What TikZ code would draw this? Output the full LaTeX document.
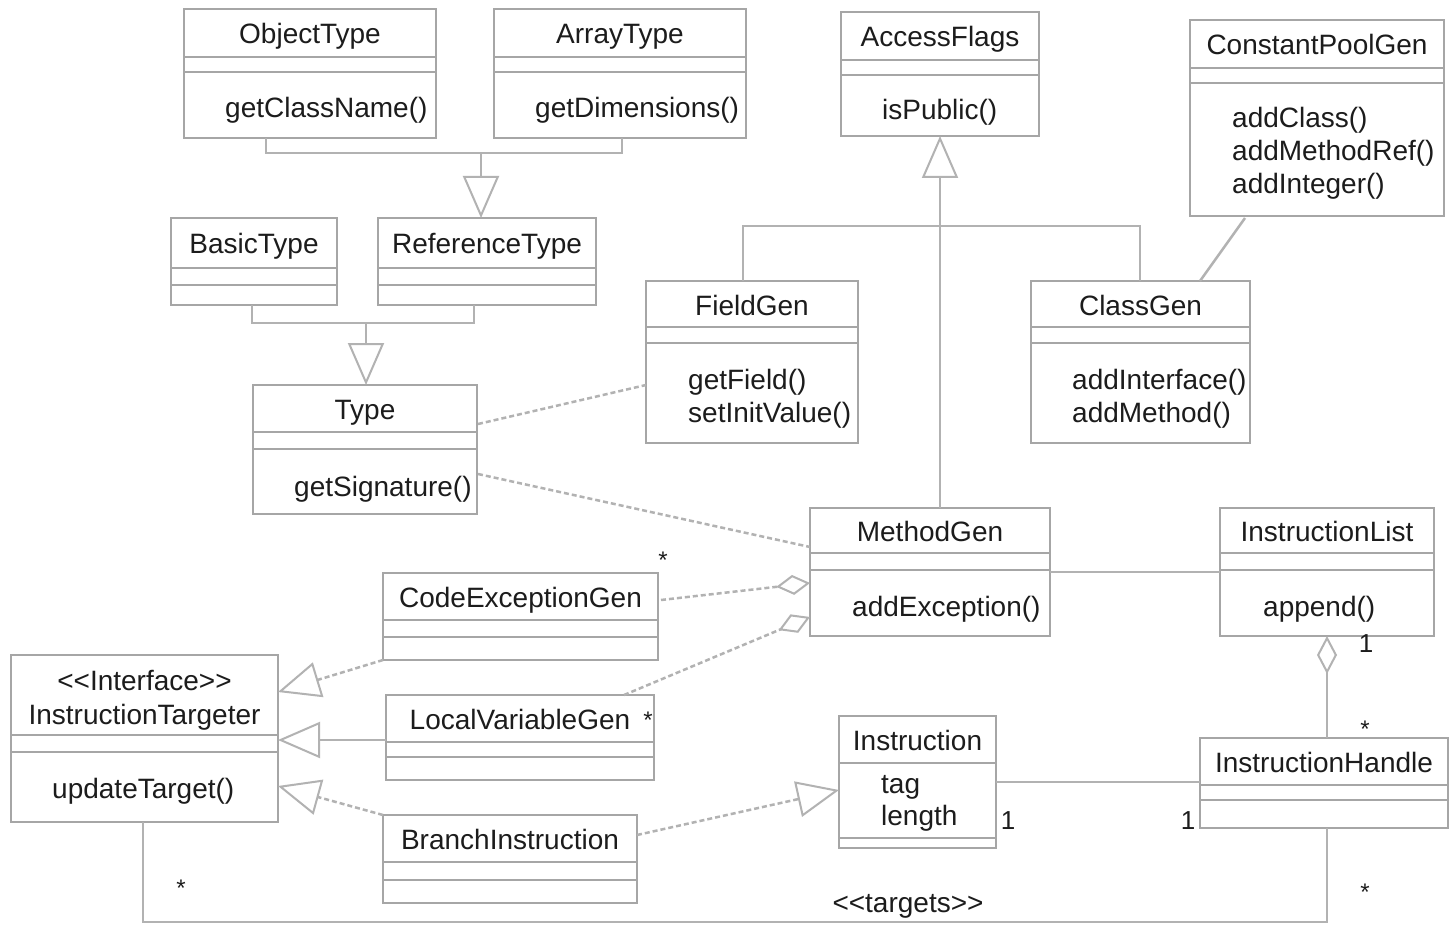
\documentclass[tikz,border=0pt]{standalone}
\usepackage{fontspec}
\setmainfont{Liberation Sans}
\usetikzlibrary{arrows.meta,calc}
\definecolor{linegray}{HTML}{B2B2B2}
\definecolor{boxgray}{HTML}{A6A6A6}
\definecolor{ink}{HTML}{1C1C1C}
\tikzset{
  classbox/.style={draw=boxgray, line width=2pt, fill=white, inner sep=0pt, outer sep=0pt},
  compline/.style={draw=boxgray, line width=2pt},
  conn/.style={draw=linegray, line width=2.5pt},
  dashconn/.style={conn, dash pattern=on 5pt off 3pt},
  gen/.style={-{Triangle[open,length=42pt,width=36pt,line width=2pt]}},
  agg/.style={-{Diamond[open,length=34pt,width=20pt,line width=2pt]}},
  ctitle/.style={anchor=base, inner sep=0pt, text=ink, font=\fontsize{28}{33}\selectfont},
  meth/.style={anchor=base west, inner sep=0pt, text=ink, font=\fontsize{28}{33}\selectfont},
  star/.style={anchor=base, inner sep=0pt, text=ink, font=\fontsize{24}{28}\selectfont},
  one/.style={anchor=base, inner sep=0pt, text=ink, font=\fontsize{26}{30}\selectfont},
}
% name, x1, y1, x2, y2, line1, line2, title
\newcommand{\umlclass}[8]{%
  \node[classbox, minimum width={(#4)-(#2)}, minimum height={(#5)-(#3)}] (#1) at ({((#2)+(#4))/2},{((#3)+(#5))/2}) {};
  \draw[compline] (#2,#6) -- (#4,#6) (#2,#7) -- (#4,#7);
  \node[ctitle] (#1t) at ({((#2)+(#4))/2},{((#3)+(#6))/2+11}) {#8};
}
\begin{document}
\begin{tikzpicture}[x=1pt,y=-1pt]
\useasboundingbox (0,0) rectangle (1450,925);
\fill[white] (0,0) rectangle (1450,925);

% classes
\umlclass{OT}{184}{9}{436}{138}{57}{72}{ObjectType}
\node[meth] (OTm1) at (225,118) {getClassName()};
\umlclass{AT}{494}{9}{746}{138}{57}{72}{ArrayType}
\node[meth] (ATm1) at (535,118) {getDimensions()};
\umlclass{AF}{841}{12}{1039}{136}{60}{75}{AccessFlags}
\node[meth] (AFm1) at (882,120) {isPublic()};
\umlclass{CPG}{1190}{20}{1444}{216}{68}{83}{ConstantPoolGen}
\node[meth] (CPGm1) at (1232,128) {addClass()};
\node[meth] (CPGm2) at (1232,161) {addMethodRef()};
\node[meth] (CPGm3) at (1232,194) {addInteger()};
\umlclass{BT}{171}{218}{337}{305}{268}{285}{BasicType}
\umlclass{RT}{378}{218}{596}{305}{268}{285}{ReferenceType}
\umlclass{FG}{646}{281}{858}{443}{327}{343}{FieldGen}
\node[meth] (FGm1) at (688,389) {getField()};
\node[meth] (FGm2) at (688,422) {setInitValue()};
\umlclass{CG}{1031}{281}{1250}{443}{327}{343}{ClassGen}
\node[meth] (CGm1) at (1072,389) {addInterface()};
\node[meth] (CGm2) at (1072,422) {addMethod()};
\umlclass{TY}{253}{385}{477}{514}{432}{449}{Type}
\node[meth] (TYm1) at (294,496) {getSignature()};
\umlclass{MG}{810}{508}{1050}{636}{553}{570}{MethodGen}
\node[meth] (MGm1) at (852,616) {addException()};
\umlclass{IL}{1220}{508}{1434}{636}{553}{570}{InstructionList}
\node[meth] (ILm1) at (1263,616) {append()};
\umlclass{CEG}{383}{573}{658}{660}{620}{637}{CodeExceptionGen}
\umlclass{IT}{11}{655}{278}{822}{735}{752}{}
\node[ctitle] (ITs) at (144.5,690) {<\kern0pt<Interface>\kern0pt>};
\node[ctitle] (ITn) at (144.5,724) {InstructionTargeter};
\node[meth] (ITm1) at (52,798) {updateTarget()};
\umlclass{LVG}{386}{695}{654}{780}{742}{757}{LocalVariableGen}
\umlclass{BI}{383}{815}{637}{903}{862}{880}{BranchInstruction}
\umlclass{IN}{839}{716}{996}{848}{763}{838}{Instruction}
\node[meth] (INm1) at (881,793) {tag};
\node[meth] (INm2) at (881,825) {length};
\umlclass{IH}{1200}{738}{1448}{828}{785}{800}{InstructionHandle}

% generalizations to ReferenceType and Type
\coordinate (jA) at (481,153);
\draw[conn] ($(OT.south west)+(82,0)$) -- ++(0,15) -| ($(AT.south west)+(128,0)$);
\draw[conn,gen] (jA) -- ($(RT.north west)+(103,0)$);
\coordinate (jB) at (366,323);
\draw[conn] ($(BT.south west)+(81,0)$) -- ++(0,18) -| ($(RT.south west)+(96,0)$);
\draw[conn,gen] (jB) -- ($(TY.north west)+(113,0)$);

% AccessFlags hierarchy
\coordinate (jC) at (940,226);
\draw[conn,gen] (MG.north -| AF.south) -- (AF.south);
\draw[conn] ($(FG.north west)+(97,0)$) |- (jC) -| ($(CG.north west)+(109,0)$);
\draw[conn] ($(CPG.south west)+(55,2)$) -- ($(CG.north west)+(169,0)$);

% dependencies of Type
\draw[dashconn] ($(TY.north east)+(1,39)$) -- ($(FG.north west)+(0,104)$);
\draw[dashconn] ($(TY.north east)+(1,89)$) -- ($(MG.north west)+(0,39)$);

% MethodGen - InstructionList
\draw[conn] ($(MG.north east)+(0,64)$) -- ($(IL.north west)+(0,64)$);

% aggregations into MethodGen
\draw[dashconn,agg] ($(CEG.north east)+(3,27)$) -- ($(MG.north west)+(0,75)$);
\draw[dashconn,agg] ($(LVG.north west)+(238,0)$) -- ($(MG.north west)+(0,109)$);

% realizations of InstructionTargeter
\draw[dashconn,gen] (CEG.south west) -- ($(IT.north east)+(0,37)$);
\draw[conn,gen] ($(LVG.north west)+(0,45)$) -- ($(IT.north east)+(0,85)$);
\draw[dashconn,gen] (BI.north west) -- ($(IT.north east)+(0,131)$);

% BranchInstruction -> Instruction
\draw[dashconn,gen] ($(BI.north east)+(0,20)$) -- ($(IN.north west)+(0,74)$);

% Instruction - InstructionHandle
\draw[conn] ($(IN.north east)+(0,66)$) -- ($(IH.north west)+(0,44)$);

% InstructionList <>- InstructionHandle
\draw[conn,{Diamond[open,length=38pt,width=20pt,line width=2pt]}-] (IL.south) -- (IH.north -| IL.south);

% targets
\draw[conn] ($(IT.south west)+(132,0)$) -- ++(0,100) -| (IH.south -| IL.south);

% multiplicities and labels
\node[star] (s1) at (663,568) {*};
\node[star] (s2) at (648,728) {*};
\node[star] (s3) at (1365,737) {*};
\node[star] (s4) at (181,896) {*};
\node[star] (s5) at (1365,900) {*};
\node[one] (o1) at (1366,652) {1};
\node[one] (o2) at (1008,829) {1};
\node[one] (o3) at (1188,829) {1};
\node[ctitle] (tg) at (908,912) {<\kern0pt<targets>\kern0pt>};
\end{tikzpicture}
\end{document}
